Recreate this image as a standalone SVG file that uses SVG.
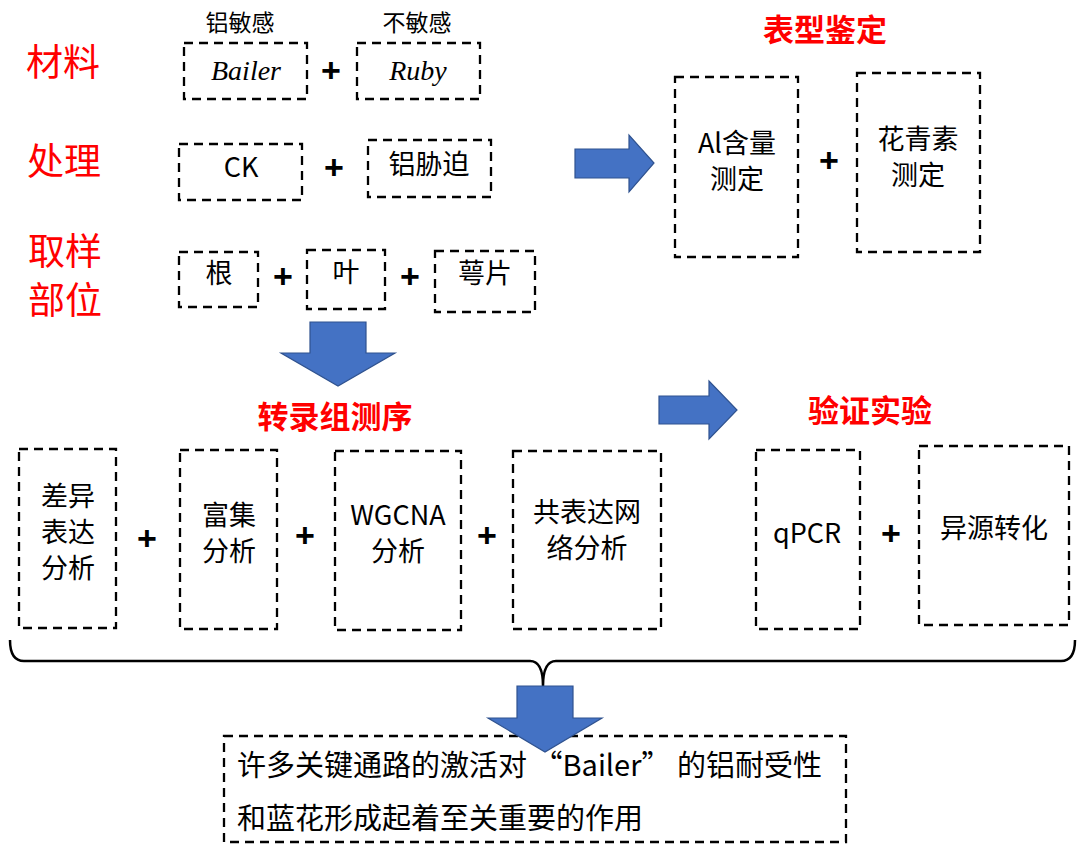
<svg xmlns="http://www.w3.org/2000/svg" width="1080" height="856" viewBox="0 0 1080 856">
<style>
.box{fill:none;stroke:#000;stroke-width:2.3;stroke-dasharray:9 6}
.t{font-family:"Noto Sans CJK SC","Noto Sans",sans-serif;font-size:27px;fill:#000;text-anchor:middle;dominant-baseline:central}
.s{font-family:"Noto Sans CJK SC","Noto Sans",sans-serif;font-size:23px;fill:#000;text-anchor:middle;dominant-baseline:central}
.i{font-family:"Liberation Serif",serif;font-style:italic;font-size:28px;fill:#000;text-anchor:middle;dominant-baseline:central}
.r{font-family:"Noto Sans CJK SC",sans-serif;font-size:37px;fill:#FF0000;text-anchor:middle;dominant-baseline:central}
.h{font-family:"Noto Sans CJK SC",sans-serif;font-size:31px;font-weight:bold;fill:#FF0000;text-anchor:middle;dominant-baseline:central}
.p{font-family:"Liberation Sans",sans-serif;font-size:34px;font-weight:bold;fill:#000;text-anchor:middle;dominant-baseline:central}
.b{font-family:"Noto Sans CJK SC","Noto Sans",sans-serif;font-size:29px;fill:#000}
.arr{fill:#4472C4;stroke:#2F528F;stroke-width:1.2}
</style>

<g id="labels">
<text class="r" x="63" y="60">材料</text>
<text class="r" x="64" y="159">处理</text>
<text class="r" x="65" y="249">取样</text>
<text class="r" x="65" y="298">部位</text>
<text class="h" x="825" y="27">表型鉴定</text>
<text class="h" x="335" y="414">转录组测序</text>
<text class="h" x="870" y="408">验证实验</text>
<text class="s" x="240" y="21">铝敏感</text>
<text class="s" x="417" y="21">不敏感</text>
</g>

<g id="plus">
<text class="p" x="331" y="70">+</text>
<text class="p" x="334" y="167">+</text>
<text class="p" x="283" y="276">+</text>
<text class="p" x="410" y="276">+</text>
<text class="p" x="829" y="160">+</text>
<text class="p" x="147" y="538">+</text>
<text class="p" x="305" y="535">+</text>
<text class="p" x="487" y="535">+</text>
<text class="p" x="891" y="533">+</text>
</g>

<g id="n-bailer"><rect class="box" x="184" y="43" width="123" height="56"/><text class="i" x="246" y="70">Bailer</text></g>
<g id="n-ruby"><rect class="box" x="357" y="43" width="123" height="56"/><text class="i" x="418" y="70">Ruby</text></g>
<g id="n-ck"><rect class="box" x="179" y="144" width="123" height="56"/><text class="t" x="241" y="165">CK</text></g>
<g id="n-al"><rect class="box" x="368" y="140" width="123" height="57"/><text class="t" x="429" y="162">铝胁迫</text></g>
<g id="n-root"><rect class="box" x="179" y="252" width="79" height="55"/><text class="t" x="219" y="271">根</text></g>
<g id="n-leaf"><rect class="box" x="307" y="250" width="78" height="59"/><text class="t" x="346" y="270">叶</text></g>
<g id="n-sepal"><rect class="box" x="435" y="251" width="100" height="61"/><text class="t" x="485" y="271">萼片</text></g>

<g id="n-alcontent"><rect class="box" x="675" y="77" width="123" height="180"/><text class="t" x="737" y="141">Al含量</text><text class="t" x="737" y="177">测定</text></g>
<g id="n-antho"><rect class="box" x="857" y="73" width="123" height="179"/><text class="t" x="918" y="137">花青素</text><text class="t" x="918" y="173">测定</text></g>

<g id="n-deg"><rect class="box" x="19" y="449" width="97" height="179"/><text class="t" x="68" y="494">差异</text><text class="t" x="68" y="530">表达</text><text class="t" x="68" y="566">分析</text></g>
<g id="n-enrich"><rect class="box" x="180" y="450" width="97" height="179"/><text class="t" x="229" y="513">富集</text><text class="t" x="229" y="549">分析</text></g>
<g id="n-wgcna"><rect class="box" x="335" y="451" width="126" height="179"/><text class="t" x="398" y="513">WGCNA</text><text class="t" x="398" y="549">分析</text></g>
<g id="n-coexp"><rect class="box" x="513" y="451" width="148" height="178"/><text class="t" x="587" y="510">共表达网</text><text class="t" x="587" y="546">络分析</text></g>
<g id="n-qpcr"><rect class="box" x="756" y="450" width="104" height="179"/><text class="t" x="807" y="531">qPCR</text></g>
<g id="n-hetero"><rect class="box" x="919" y="446" width="150" height="179"/><text class="t" x="994" y="526">异源转化</text></g>

<g id="n-result"><rect class="box" x="224" y="736" width="622" height="106"/>
<text class="b" x="237" y="776">许多关键通路的激活对 “Bailer” 的铝耐受性</text>
<text class="b" x="237" y="829">和蓝花形成起着至关重要的作用</text></g>

<g id="connectors">
<path class="arr" d="M575,149 L629,149 L629,135 L654,163 L629,192 L629,178 L575,178 Z"/>
<path class="arr" d="M310,322 L366,322 L366,353 L395,353 L338,386 L281,353 L310,353 Z"/>
<path class="arr" d="M659,396 L709,396 L709,381 L737,410 L709,439 L709,424 L659,424 Z"/>
<path d="M10,640 Q10,661 24,661 L530,661 Q543,661 543,686 Q543,661 556,661 L1061,661 Q1075,661 1075,640" fill="none" stroke="#000" stroke-width="2.5"/>
<path class="arr" d="M517,686 L573,686 L573,718 L602,718 L545,752 L488,718 L517,718 Z"/>
</g>
</svg>
